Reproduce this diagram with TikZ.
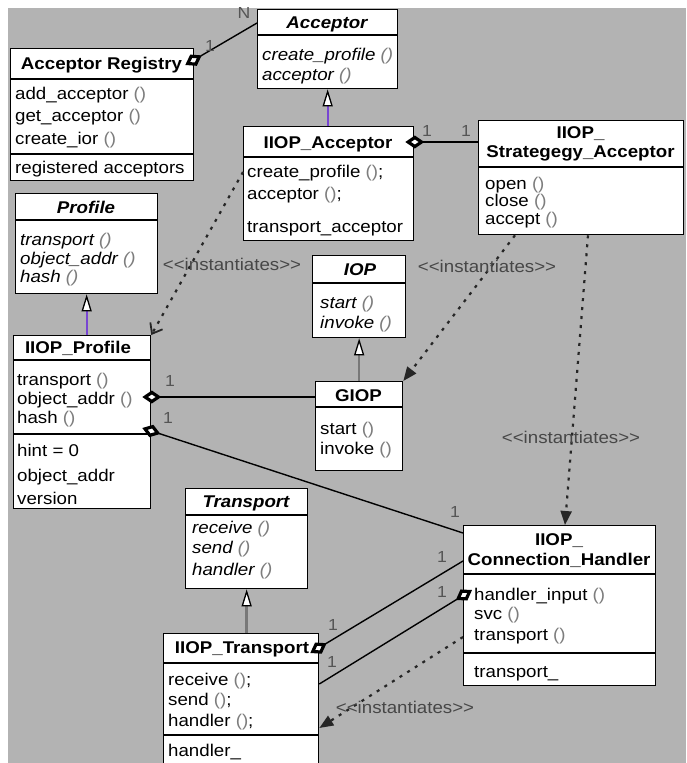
\documentclass[tikz,border=0pt]{standalone}
\usepackage{fontspec}
\setmainfont{Liberation Sans}[FakeStretch=1.1, Ligatures=TeXOff]
\usetikzlibrary{arrows.meta,calc}
\definecolor{bg}{RGB}{179,179,179}
\definecolor{pgray}{RGB}{125,125,125}
\definecolor{lblgray}{RGB}{85,85,85}
\definecolor{purp}{RGB}{120,70,210}
\definecolor{inhgray}{RGB}{120,120,120}
\newcommand\pp{{\color{pgray}()}}
\newcommand\umlbox[5]{\node[cls, minimum width={(#4-#2)*1pt}, minimum height={(#5-#3)*1pt}, anchor=north west] (#1) at (#2,#3) {};}
\newcommand\clsep[3]{\draw[sepl] (#1,#3) -- (#2,#3);}
\begin{document}
\begin{tikzpicture}[x=1pt,y=-1pt,
  cls/.style={draw=black, line width=1.3pt, fill=white, inner sep=0pt, rectangle},
  sepl/.style={line width=2pt, black},
  txt/.style={inner sep=0pt, anchor=base west, font=\fontsize{17}{20}\selectfont},
  itxt/.style={txt, font=\fontsize{17}{20}\selectfont\itshape},
  hdr/.style={inner sep=0pt, anchor=base, font=\fontsize{17}{20}\selectfont\bfseries},
  ahdr/.style={hdr, font=\fontsize{17}{20}\selectfont\bfseries\itshape},
  mult/.style={inner sep=0pt, font=\fontsize{16}{18}\selectfont, text=lblgray},
  inst/.style={dash pattern=on 3pt off 6pt, line width=2.2pt, draw=black!85},
  insttip/.style={-{Triangle[length=14pt,width=11pt]}},
  instopen/.style={-{Straight Barb[length=9pt,width=14pt,line width=1.8pt]}},
  instlbl/.style={inner sep=0pt, font=\fontsize{17}{20}\selectfont, text=black!72},
  assocd/.style={line width=1.4pt, black, {Diamond[fill=white,length=19pt,width=13pt,line width=3.2pt]}-},
  inh/.style={line width=1.8pt, -{Triangle[color=black,fill=white,length=17pt,width=10pt,line width=1.3pt]}}
]
\path[use as bounding box] (0,0) rectangle (686,763);
\fill[white] (0,0) rectangle (686,763);
\fill[bg] (8,8) rectangle (686,763);
\begin{scope}
\clip (0,0) rectangle (686,763);

% ---- Acceptor Registry
\umlbox{ar}{10}{48}{193}{180}
\clsep{10}{193}{79}\clsep{10}{193}{154}
\node[hdr] (ar-h) at (101.5,69) {Acceptor Registry};
\node[txt] (ar-m1) at (15,99) {add\_acceptor \pp};
\node[txt] (ar-m2) at (15,121.5) {get\_acceptor \pp};
\node[txt] (ar-m3) at (15,144) {create\_ior \pp};
\node[txt] (ar-a1) at (15,173) {registered acceptors};

% ---- Acceptor
\umlbox{ac}{257}{9}{397}{88}
\clsep{257}{397}{35}
\node[ahdr] (ac-h) at (327,28) {Acceptor};
\node[itxt] (ac-m1) at (262,60) {create\_profile \pp};
\node[itxt] (ac-m2) at (262,80) {acceptor \pp};

% ---- IIOP_Acceptor
\umlbox{ia}{243}{126}{413}{240}
\clsep{243}{413}{157}
\node[hdr] (ia-h) at (328,148) {IIOP\_Acceptor};
\node[txt] (ia-m1) at (247,177) {create\_profile \pp;};
\node[txt] (ia-m2) at (247,199) {acceptor \pp;};
\node[txt] (ia-a1) at (247,232) {transport\_acceptor};

% ---- IIOP_Strategegy_Acceptor
\umlbox{sa}{478}{120}{683}{234}
\clsep{478}{683}{167}
\node[hdr] (sa-h1) at (580.5,138) {IIOP\_};
\node[hdr] (sa-h2) at (580.5,157) {Strategegy\_Acceptor};
\node[txt] (sa-m1) at (485,189) {open \pp};
\node[txt] (sa-m2) at (485,206.5) {close \pp};
\node[txt] (sa-m3) at (485,224) {accept \pp};

% ---- Profile
\umlbox{pr}{15}{193}{157}{293}
\clsep{15}{157}{220}
\node[ahdr] (pr-h) at (86,213) {Profile};
\node[itxt] (pr-m1) at (20,245) {transport \pp};
\node[itxt] (pr-m2) at (20,264) {object\_addr \pp};
\node[itxt] (pr-m3) at (20,282.5) {hash \pp};

% ---- IIOP_Profile
\umlbox{ip}{13}{335}{150}{508}
\clsep{13}{150}{360}\clsep{13}{150}{434}
\node[hdr] (ip-h) at (78,353) {IIOP\_Profile};
\node[txt] (ip-m1) at (17,385) {transport \pp};
\node[txt] (ip-m2) at (17,404) {object\_addr \pp};
\node[txt] (ip-m3) at (17,423) {hash \pp};
\node[txt] (ip-a1) at (17,456) {hint = 0};
\node[txt] (ip-a2) at (17,481) {object\_addr};
\node[txt] (ip-a3) at (17,504) {version};

% ---- IOP
\umlbox{io}{312}{255}{405}{337}
\clsep{312}{405}{283}
\node[ahdr] (io-h) at (360,275) {IOP};
\node[itxt] (io-m1) at (320,308) {start \pp};
\node[itxt] (io-m2) at (320,328) {invoke \pp};

% ---- GIOP
\umlbox{gi}{315}{381}{402}{470}
\clsep{315}{402}{407}
\node[hdr] (gi-h) at (358.5,401) {GIOP};
\node[txt] (gi-m1) at (320,434) {start \pp};
\node[txt] (gi-m2) at (320,454) {invoke \pp};

% ---- IIOP_Connection_Handler
\umlbox{ch}{463}{525}{655}{685}
\clsep{463}{655}{574}\clsep{463}{655}{653}
\node[hdr] (ch-h1) at (559,545) {IIOP\_};
\node[hdr] (ch-h2) at (559,565) {Connection\_Handler};
\node[txt] (ch-m1) at (474,600) {handler\_input \pp};
\node[txt] (ch-m2) at (474,619.5) {svc \pp};
\node[txt] (ch-m3) at (474,640) {transport \pp};
\node[txt] (ch-a1) at (474,677) {transport\_};

% ---- Transport
\umlbox{tr}{185}{488}{307}{588}
\clsep{185}{307}{515}
\node[ahdr] (tr-h) at (246,507) {Transport};
\node[itxt] (tr-m1) at (192,533) {receive \pp};
\node[itxt] (tr-m2) at (192,553.5) {send \pp};
\node[itxt] (tr-m3) at (192,575) {handler \pp};

% ---- IIOP_Transport
\umlbox{it}{163}{633}{318}{775}
\clsep{163}{318}{663}\clsep{163}{318}{735}
\node[hdr] (it-h) at (242,653) {IIOP\_Transport};
\node[txt] (it-m1) at (168,685) {receive \pp;};
\node[txt] (it-m2) at (168,705) {send \pp;};
\node[txt] (it-m3) at (168,726) {handler \pp;};
\node[txt] (it-a1) at (168,756) {handler\_};

% ---- generalisations
\draw[inh, purp] (ac.south |- ia.north) -- (ac.south);
\draw[inh, purp] (pr.south |- ip.north) -- (pr.south);
\draw[inh, inhgray] (io.south |- gi.north) -- (io.south);
\draw[inh, inhgray, line width=3pt] (tr.south |- it.north) -- (tr.south);

% ---- associations
\draw[assocd] ($(ar.north east)+(-9,17)$) -- ($(ac.north west)+(0,14)$);
\draw[assocd] ($(ia.north east)+(-9,16)$) -- ($(sa.north west)+(0,22)$);
\draw[assocd] ($(ip.north east)+(-9,62)$) -- ($(gi.north west)+(0,16)$);
\draw[assocd] ($(ip.north east)+(-9,93)$) -- ($(ch.north west)+(0,8)$);
\draw[assocd] ($(it.north east)+(-9,20)$) -- ($(ch.north west)+(0,36)$);
\draw[assocd] ($(ch.north west)+(9,65)$) -- ($(it.north east)+(0,51)$);

% ---- multiplicities
\node[mult] (m1) at (210,46) {1};
\node[mult] (m2) at (244,13) {N};
\node[mult] (m3) at (427,131) {1};
\node[mult] (m4) at (466,131) {1};
\node[mult] (m5) at (170,381) {1};
\node[mult] (m6) at (168,418) {1};
\node[mult] (m7) at (455,512) {1};
\node[mult] (m8) at (333,625) {1};
\node[mult] (m9) at (442,557) {1};
\node[mult] (m10) at (332,662) {1};
\node[mult] (m11) at (442,592) {1};

% ---- instantiates dependencies
\draw[inst, instopen] ($(ia.north west)+(0,46)$) -- (ip.north east);
\draw[inst, insttip] ($(sa.south west)+(37,0)$) -- (gi.north east);
\draw[inst, insttip] ($(sa.south west)+(110,0)$) -- ($(ch.north west)+(102,0)$);
\draw[inst, insttip] ($(ch.north west)+(0,112)$) -- ($(it.north east)+(0,95)$);
\node[instlbl] (l1) at (232,264) {<<instantiates>>};
\node[instlbl] (l2) at (487,266) {<<instantiates>>};
\node[instlbl] (l3) at (571,437) {<<instantiates>>};
\node[instlbl] (l4) at (405,707) {<<instantiates>>};
\end{scope}
\end{tikzpicture}
\end{document}
